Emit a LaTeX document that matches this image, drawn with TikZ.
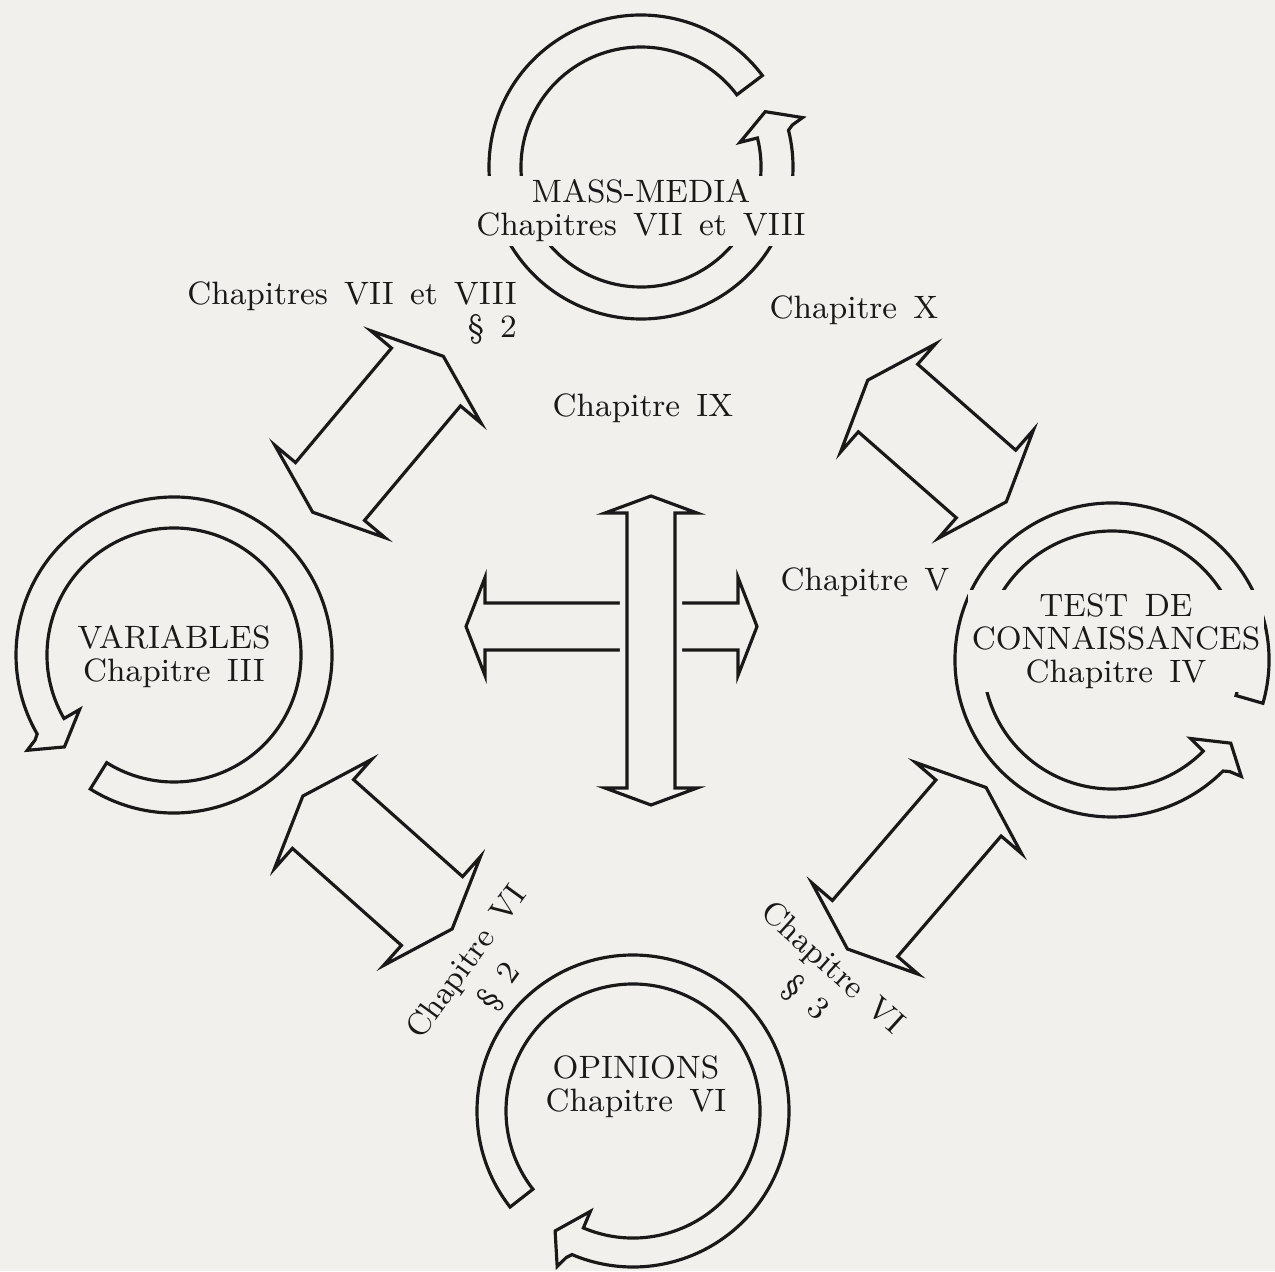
\documentclass[tikz,border=0pt]{standalone}
\usepackage{tikz}
\usetikzlibrary{calc}
\definecolor{paper}{RGB}{241,240,236}
\definecolor{ink}{RGB}{25,25,25}
\newcommand\lblfont{\fontsize{9.2}{9.4}\selectfont\spaceskip=.5em plus .1em\relax}
%% ring arrow: centre, inner r, outer r, tail angle, head angle, sense
\newcommand\ringarrow[6]{%
\begin{scope}[shift={(#1)}]
\draw[band] (#4:#3) arc[start angle=#4,end angle=#5,radius=#3]
  -- ({#5+(#6)*1.5}:{#3+5}) -- ({#5+(#6)*3}:{#3+17}) -- ({#5+(#6)*10}:{#2+16})
  -- (#5:{#2-18}) -- (#5:#2) arc[start angle=#5,end angle=#4,radius=#2] -- cycle;
\end{scope}}
%% hollow double arrow: style, end A, end B, half shaft, half head, head length
\newcommand\dblarrow[6][]{%
\draw[block,#1] ($(#2)!#4!90:(#3)$) -- ($(#2)!#5!90:(#3)$) -- ($(#2)!-#6!(#3)$)
  -- ($(#2)!#5!-90:(#3)$) -- ($(#2)!#4!-90:(#3)$)
  -- ($(#3)!#4!90:(#2)$) -- ($(#3)!#5!90:(#2)$) -- ($(#3)!-#6!(#2)$)
  -- ($(#3)!#5!-90:(#2)$) -- ($(#3)!#4!-90:(#2)$) -- cycle;}
\tikzset{
  band/.style={draw=ink,line width=.9pt,line join=miter},
  block/.style={draw=ink,line width=.9pt,line join=miter},
  lbl/.style={text=ink,font=\lblfont,align=center,inner sep=1pt},
  ringlbl/.style={lbl,fill=paper}
}
\begin{document}
\begin{tikzpicture}[x=0.1mm,y=0.1mm]
\useasboundingbox (0,0) rectangle (1275,1271);
\fill[paper] (0,0) rectangle (1275,1271);
%% the four cycles
\ringarrow{641,1104}{120}{152}{37}{374}{1}
\ringarrow{174,616}{127}{158}{238}{570}{1}
\ringarrow{1112,611}{129}{157}{344}{675}{1}
\ringarrow{633,160}{127}{156}{218}{-113}{-1}
%% links between the cycles
\dblarrow{330,779.5}{426,894}{4.5mm}{7.2mm}{2.7mm}
\dblarrow{888,873}{986,787}{4.5mm}{7.2mm}{2.7mm}
\dblarrow{323,457}{432,360}{4.6mm}{7.3mm}{2.7mm}
\dblarrow{968.5,463}{865,342.5}{4.3mm}{7mm}{2.7mm}
%% centre cross
\dblarrow{485,644.5}{738,644.5}{2.35mm}{4.9mm}{1.9mm}
\dblarrow[fill=paper,preaction={draw=paper,line width=4pt}]{651,758}{651,483}{2.4mm}{4.6mm}{1.7mm}
%% labels
\node[ringlbl] (mm) at (641,1060) {MASS-MEDIA\\Chapitres VII et VIII};
\node[lbl] (var) at (174,614) {VARIABLES\\Chapitre III};
\node[ringlbl] (test) at (1116,630) {TEST DE\\CONNAISSANCES\\Chapitre IV};
\node[lbl] (opi) at (636,184) {OPINIONS\\Chapitre VI};
\node[lbl,align=right,anchor=east] (ch78) at (521,958) {Chapitres VII et VIII\\\S~2};
\node[lbl] (chX) at (854,961) {Chapitre X};
\node[lbl] (chIX) at (643,863) {Chapitre IX};
\node[lbl] (chV) at (865,689) {Chapitre V};
\node[lbl,rotate=54] (ch62) at (484,296) {Chapitre VI\\[2pt]\S~2};
\node[lbl,rotate=-42] (ch63) at (818,287) {Chapitre VI\\[2pt]\S~3};
\end{tikzpicture}
\end{document}
